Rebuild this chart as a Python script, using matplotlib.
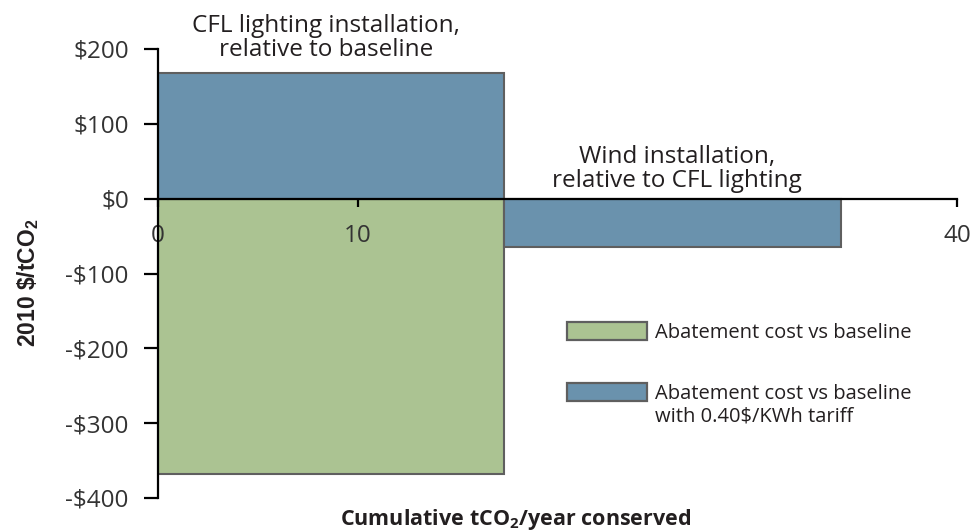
import matplotlib
matplotlib.use('Agg')
import matplotlib.pyplot as plt
from matplotlib.patches import Rectangle

plt.rcParams['font.family'] = ['Open Sans', 'DejaVu Sans']
plt.rcParams['mathtext.default'] = 'regular'

# data
projects = ['CFL lighting', 'Wind']
widths = [17.3, 16.9]                 # tCO2/year conserved per project
cost_baseline = [-368, 0]             # abatement cost vs baseline
cost_tariff = [168, -64]              # with 0.40$/KWh tariff
project_notes = ['CFL lighting installation,\nrelative to baseline',
                 'Wind installation,\nrelative to CFL lighting']
yticks = [-400, -300, -200, -100, 0, 100, 200]
ytick_labels = ['-$400', '-$300', '-$200', '-$100', '$0', '$100', '$200']
xticks = [0, 10, 20, 30, 40]
legend_labels = ['Abatement cost vs baseline',
                 'Abatement cost vs baseline\nwith 0.40$/KWh tariff']

GREEN = '#abc392'
BLUE = '#6a92ad'
EDGE = '#5f5f5f'
TXT = '#231f20'

W, H = 979, 532
fig = plt.figure(figsize=(W / 100, H / 100), dpi=100)
ax = fig.add_axes([158 / W, 1 - 498 / H, (957 - 158) / W, (498 - 49) / H])

lefts = [0, widths[0]]
# green bars (low zorder so the 0 / 10 tick labels show on top)
for i in range(len(projects)):
    if cost_baseline[i] != 0:
        ax.bar(lefts[i], cost_baseline[i], width=widths[i], align='edge',
               color=GREEN, edgecolor=EDGE, linewidth=1.5, zorder=1)
# blue bars - the wind bar sits above the x tick labels (hides 20 / 30)
for i in range(len(projects)):
    ax.bar(lefts[i], cost_tariff[i], width=widths[i], align='edge',
           color=BLUE, edgecolor=EDGE, linewidth=1.5, zorder=1 if i == 0 else 3)

ax.set_xlim(0, 40)
ax.set_ylim(-400, 200)

ax.spines['top'].set_visible(False)
ax.spines['right'].set_visible(False)
ax.spines['bottom'].set_position(('data', 0))
for s in ['bottom', 'left']:
    ax.spines[s].set_zorder(4)
    ax.spines[s].set_linewidth(1.6)
    ax.spines[s].set_color('black')

ax.set_yticks(yticks)
ax.set_yticklabels(ytick_labels)
ax.set_xticks(xticks)
ax.set_xticklabels([str(x) for x in xticks])
ax.tick_params(axis='y', direction='out', length=10, width=1.6, labelsize=17.5,
               labelcolor='#333333', pad=11)
ax.tick_params(axis='x', direction='out', length=6, width=1.6, labelsize=17.5,
               labelcolor='#333333', pad=12)
ax.patch.set_visible(False)

# project notes
fig.text(326 / W, 1 - 38 / H, project_notes[0], ha='center', va='center',
         fontsize=17.5, color=TXT, linespacing=1.0)
fig.text(677 / W, 1 - 169 / H, project_notes[1], ha='center', va='center',
         fontsize=17.5, color=TXT, linespacing=1.0)

# axis labels
fig.text(28 / W, 1 - 283 / H, r'2010 \$/tCO$_2$', rotation=90, ha='center',
         va='center', fontsize=16.5, fontweight='bold', color=TXT,
         family=['Liberation Sans', 'DejaVu Sans'])
fig.text(516 / W, 1 - 520 / H, 'Cumulative tCO$_2$/year conserved', ha='center',
         va='center', fontsize=15.5, fontweight='bold', color=TXT)

# legend, placed by hand
legend_colors = [GREEN, BLUE]
legend_box_top = [322, 383]
for col, top, lab in zip(legend_colors, legend_box_top, legend_labels):
    fig.patches.append(Rectangle((567 / W, 1 - (top + 18) / H), 80 / W, 18 / H,
                                 transform=fig.transFigure, facecolor=col,
                                 edgecolor=EDGE, linewidth=1.6))
    fig.text(655 / W, 1 - (top + 1) / H, lab, ha='left', va='top',
             fontsize=14.5, color=TXT, linespacing=1.15)

fig.savefig('out.png', dpi=100)
